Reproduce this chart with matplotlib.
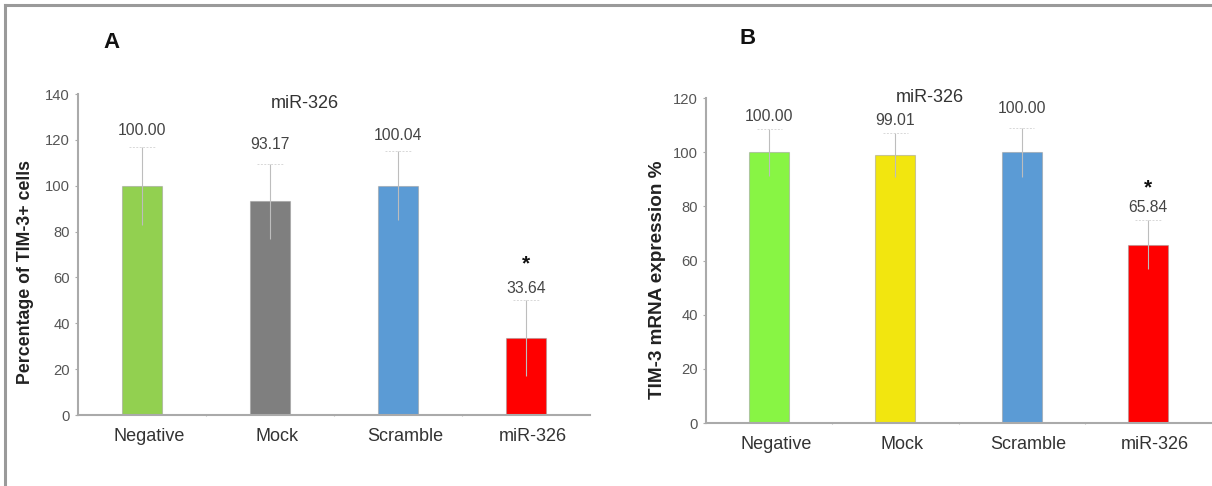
import matplotlib
matplotlib.use("Agg")
import matplotlib.pyplot as plt
from matplotlib.lines import Line2D
import matplotlib.transforms as mtransforms
import numpy as np

plt.rcParams['font.family'] = ['Liberation Sans', 'DejaVu Sans']

categories = ["Negative", "Mock", "Scramble", "miR-326"]

# Panel A: percentage of TIM-3+ cells
a_values = [100.00, 93.17, 100.04, 33.64]
a_errors = [17.0, 16.5, 15.0, 16.5]
a_labels = ["100.00", "93.17", "100.04", "33.64"]
a_colors = ["#92D050", "#7F7F7F", "#5B9BD5", "#FF0000"]
a_yticks = [0, 20, 40, 60, 80, 100, 120, 140]

# Panel B: TIM-3 mRNA expression %
b_values = [100.00, 99.01, 100.00, 65.84]
b_errors = [8.7, 8.0, 9.0, 9.0]
b_labels = ["100.00", "99.01", "100.00", "65.84"]
b_colors = ["#88F544", "#F2E60F", "#5B9BD5", "#FF0000"]
b_yticks = [0, 20, 40, 60, 80, 100, 120]

significant = [False, False, False, True]

W, H = 1212, 486
fig = plt.figure(figsize=(W / 100, H / 100), dpi=100)

def px_axes(left, right, top, bottom):
    return fig.add_axes([left / W, 1 - bottom / H, (right - left) / W, (bottom - top) / H])

def draw_panel(ax, values, errors, labels, colors, yticks, ymax, label_off, star_off):
    x = np.arange(len(values)) + 0.5
    ax.bar(x, values, width=0.315, color=colors, edgecolor=(0.6, 0.6, 0.6, 0.5),
           linewidth=0.8, zorder=2)
    ax.errorbar(x, values, yerr=errors, fmt='none', ecolor='#BDBDBD',
                elinewidth=0.8, capsize=0, zorder=3)
    tops = np.array(values) + np.array(errors)
    ax.hlines(tops, x - 0.1, x + 0.1, colors='#D8D8D8', linestyles=(0, (2, 1.5)),
              linewidth=0.7, zorder=3)
    for xi, t, lab, sig, lo, so in zip(x, tops, labels, significant, label_off, star_off):
        ax.annotate(lab, (xi, t), xytext=(0, lo), textcoords='offset points',
                    ha='center', va='center', fontsize=11.3, color='#444444')
        if sig:
            ax.annotate('*', (xi, t), xytext=(0, so), textcoords='offset points',
                        ha='center', va='center', fontsize=15, fontweight='bold',
                        color='#111111')
    ax.set_xlim(0, 4)
    ax.set_ylim(0, ymax)
    ax.set_yticks(yticks)
    ax.set_xticks([1, 2, 3])
    ax.set_xticklabels([])
    ax.tick_params(axis='x', length=2, color='#BBBBBB', direction='inout')
    ax.set_xticks(x, minor=True)
    ax.set_xticklabels(categories, minor=True, fontsize=13, color='#333333')
    ax.tick_params(axis='x', which='minor', length=0, pad=9)
    shift = mtransforms.ScaledTranslation(7 / 100, 0, fig.dpi_scale_trans)
    for lab in ax.get_xticklabels(minor=True):
        lab.set_transform(lab.get_transform() + shift)
    ax.tick_params(axis='y', length=2, color='#AAAAAA', labelsize=10.6,
                   labelcolor='#555555', pad=4)
    for s in ['top', 'right']:
        ax.spines[s].set_visible(False)
    for s in ['left', 'bottom']:
        ax.spines[s].set_color('#AAAAAA')
        ax.spines[s].set_linewidth(1.5)
    ax.set_facecolor('none')

# Panel A
axA = px_axes(78, 590, 94, 415)
draw_panel(axA, a_values, a_errors, a_labels, a_colors, a_yticks, 140,
           [12, 14, 11, 8], [26, 26, 26, 26])
axA.set_ylabel("Percentage of TIM-3+ cells", fontsize=12.8, fontweight='bold',
               color='#222222')
axA.yaxis.set_label_coords(-0.086, 0.445)

# Panel B
axB = px_axes(706, 1211, 98, 423)
draw_panel(axB, b_values, b_errors, b_labels, b_colors, b_yticks, 120,
           [9, 9, 14, 9], [23, 23, 23, 23])
axB.set_ylabel("TIM-3 mRNA expression %", fontsize=13.6, fontweight='bold',
               color='#222222')
axB.yaxis.set_label_coords(-0.079, 0.44)

# Titles and panel letters
fig.text(305 / W, 1 - 104 / H, "miR-326", ha='center', va='center', fontsize=13,
         color='#333333')
fig.text(930 / W, 1 - 97 / H, "miR-326", ha='center', va='center', fontsize=13,
         color='#333333')
fig.text(112 / W, 1 - 42 / H, "A", ha='center', va='center', fontsize=16,
         fontweight='bold', color='#111111')
fig.text(748 / W, 1 - 39 / H, "B", ha='center', va='center', fontsize=16,
         fontweight='bold', color='#111111')

# Outer frame (top and left edges)
fig.add_artist(Line2D([5 / W, 5 / W], [0, 1 - 5 / H], color='#9A9A9A', linewidth=2.2,
                      transform=fig.transFigure))
fig.add_artist(Line2D([5 / W, 1], [1 - 5 / H, 1 - 5 / H], color='#9A9A9A', linewidth=2.2,
                      transform=fig.transFigure))

fig.savefig("out.png", dpi=100, facecolor='white')
